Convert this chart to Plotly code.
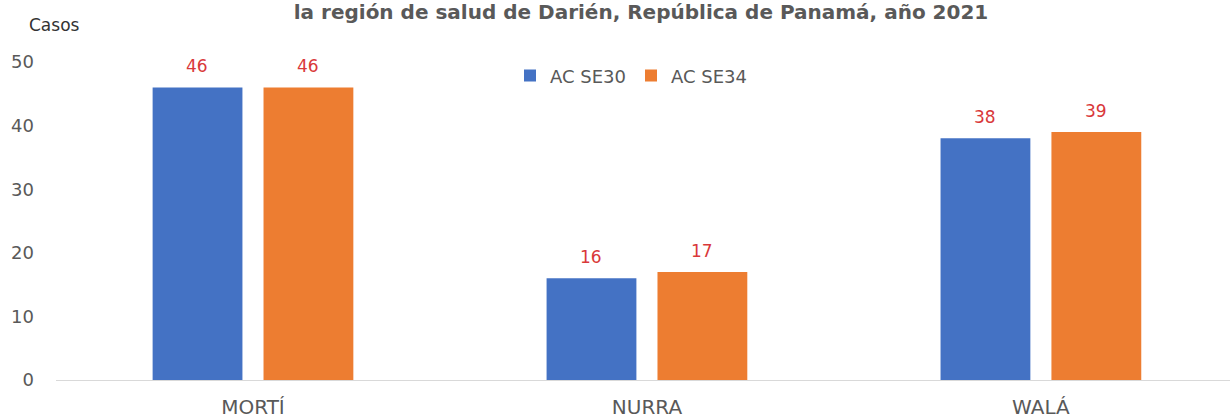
import plotly.graph_objects as go

categories = ["MORTÍ", "NURRA", "WALÁ"]
series_names = ["AC SE30", "AC SE34"]
se30 = [46, 16, 38]
se34 = [46, 17, 39]
y_ticks = [0, 10, 20, 30, 40, 50]

colors = ["#4472C4", "#ED7D31"]
grey = "#595959"
font_family = "DejaVu Sans, sans-serif"

W, H = 1230, 419
ML, MR, MT, MB = 56, 0, 62, 37
PW, PH = W - ML - MR, H - MT - MB

fig = go.Figure()
for name, vals, col in zip(series_names, [se30, se34], colors):
    fig.add_trace(go.Bar(x=categories, y=vals, name=name, marker_color=col,
                         marker_line_width=0))

annotations = []
for shift, vals in zip([-55.5, 55.5], [se30, se34]):
    for c, v in zip(categories, vals):
        annotations.append(dict(x=c, y=v, xref="x", yref="y", text=str(v),
                                showarrow=False, xshift=shift, yshift=21,
                                yanchor="middle",
                                font=dict(color="#D9383A", size=17, family=font_family)))
annotations.append(dict(x=(27 - ML) / PW, y=1 + (MT - 25) / PH, xref="paper", yref="paper",
                        xanchor="left", yanchor="middle", text="Casos", showarrow=False,
                        font=dict(color="#333333", size=17, family=font_family)))

fig.update_layout(
    width=W, height=H,
    margin=dict(l=ML, r=MR, t=MT, b=MB),
    paper_bgcolor="white", plot_bgcolor="white",
    bargap=0.437, bargroupgap=0.19,
    title=dict(text="<b>la región de salud de Darién, República de Panamá, año 2021</b>",
               x=641 / W, xanchor="center", y=1 - 12 / H, yanchor="middle",
               font=dict(size=20, color=grey, family=font_family)),
    legend=dict(orientation="h", x=(510 - ML) / PW, xanchor="left",
                y=1 - (76 - MT) / PH, yanchor="middle",
                font=dict(size=18, color=grey, family=font_family),
                itemwidth=30, traceorder="normal", bgcolor="rgba(0,0,0,0)"),
    xaxis=dict(range=[-0.5, 2.48], showgrid=False, showline=True, linecolor="#D9D9D9",
               linewidth=1, ticks="", ticklabelstandoff=9,
               tickfont=dict(size=20, color=grey, family=font_family)),
    yaxis=dict(range=[0, 50], tickvals=y_ticks, showgrid=False, zeroline=False,
               showline=False, ticks="", ticklabelstandoff=21,
               tickfont=dict(size=18, color=grey, family=font_family)),
    annotations=annotations,
    font=dict(family=font_family),
)

fig.write_html("out.html", config={"displayModeBar": False},
               post_script="document.body.style.margin='0';")
